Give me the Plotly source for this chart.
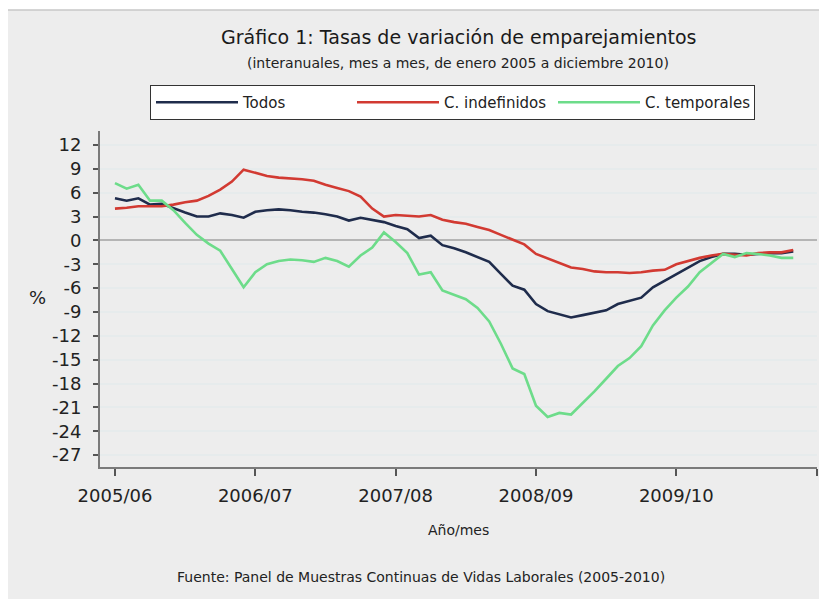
import plotly.graph_objects as go

# ---------------- data ----------------
months = list(range(59))  # monthly index, first tick = 2005/06
tick_pos = [0, 12, 24, 36, 48, 60]
tick_labels = ["2005/06", "2006/07", "2007/08", "2008/09", "2009/10", ""]
y_ticks = [12, 9, 6, 3, 0, -3, -6, -9, -12, -15, -18, -21, -24, -27]

todos = [5.3, 5.0, 5.3, 4.5, 4.6, 4.0, 3.5, 3.0, 3.0, 3.4, 3.2, 2.85, 3.6, 3.8, 3.9,
         3.8, 3.6, 3.5, 3.3, 3.0, 2.5, 2.85, 2.6, 2.3, 1.8, 1.4, 0.3, 0.6, -0.6, -1.0,
         -1.5, -2.1, -2.7, -4.2, -5.7, -6.2, -8.0, -8.9, -9.3, -9.7, -9.4, -9.1, -8.8,
         -8.0, -7.6, -7.2, -5.9, -5.1, -4.3, -3.5, -2.6, -2.1, -1.7, -1.7, -1.8, -1.7,
         -1.6, -1.6, -1.4]
indefinidos = [4.0, 4.1, 4.3, 4.3, 4.3, 4.5, 4.8, 5.0, 5.6, 6.4, 7.4, 8.9, 8.5, 8.1,
               7.9, 7.8, 7.7, 7.5, 7.0, 6.6, 6.2, 5.5, 4.0, 3.0, 3.2, 3.1, 3.0, 3.2,
               2.6, 2.3, 2.1, 1.7, 1.3, 0.7, 0.1, -0.5, -1.7, -2.3, -2.9, -3.4, -3.6,
               -3.9, -4.0, -4.0, -4.1, -4.0, -3.8, -3.7, -3.0, -2.6, -2.2, -1.9, -1.7,
               -1.8, -1.9, -1.6, -1.5, -1.5, -1.2]
temporales = [7.2, 6.5, 7.0, 5.0, 5.0, 3.8, 2.2, 0.7, -0.4, -1.3, -3.6, -5.9, -4.0,
              -3.0, -2.6, -2.4, -2.5, -2.7, -2.2, -2.6, -3.3, -1.9, -0.9, 1.0, -0.2,
              -1.6, -4.3, -4.0, -6.3, -6.8, -7.4, -8.5, -10.2, -13.0, -16.1, -16.8,
              -20.8, -22.2, -21.7, -21.9, -20.5, -19.0, -17.4, -15.8, -14.8, -13.3,
              -10.7, -8.8, -7.2, -5.8, -4.0, -2.9, -1.7, -2.1, -1.6, -1.7, -1.9,
              -2.2, -2.2]

series_names = ["Todos", "C. indefinidos", "C. temporales"]
series_colors = ["#1f2c4c", "#d23a32", "#6ddc8a"]

# ---------------- layout helpers ----------------
# page body has an 8px default margin; positions below are given in window pixels
OFF = 8
W, H = 827, 599
L = 100 - OFF
T = 131 - OFF
R = W - (817 - OFF)
B = H - (467 - OFF)
PW, PH = W - L - R, H - T - B

def px(x):
    return (x - OFF - L) / PW

def py(y):
    return (H - B - (y - OFF)) / PH

FONT = "DejaVu Sans"

fig = go.Figure()
for name, vals, col in zip(series_names, [todos, indefinidos, temporales], series_colors):
    fig.add_trace(go.Scatter(x=months, y=vals, mode="lines", name=name,
                             line=dict(color=col, width=2.6)))

fig.update_layout(
    width=W, height=H,
    margin=dict(l=L, r=R, t=T, b=B, pad=0, autoexpand=False),
    paper_bgcolor="#ffffff",
    plot_bgcolor="#ffffff",
    font=dict(family=FONT, color="#222222"),
    showlegend=True,
    legend=dict(
        orientation="h",
        x=px(150), xanchor="left",
        y=py(85), yanchor="top",
        bgcolor="#ffffff", bordercolor="#333333", borderwidth=1,
        font=dict(size=15, family=FONT, color="#222222"),
        itemwidth=82,
        entrywidth=104,
        traceorder="normal",
    ),
    xaxis=dict(
        range=[-1.28, 60.03],
        tickmode="array", tickvals=tick_pos, ticktext=tick_labels,
        showgrid=False, zeroline=False,
        showline=True, linecolor="#7a7a7a", linewidth=2,
        ticks="outside", ticklen=7, tickwidth=1.5, tickcolor="#555555",
        tickfont=dict(size=18, family=FONT, color="#222222"),
        ticklabelstandoff=4,
    ),
    yaxis=dict(
        range=[-28.5, 13.76],
        tickmode="array", tickvals=y_ticks, ticktext=[str(v) for v in y_ticks],
        showgrid=True, gridcolor="#e6ebec", gridwidth=2,
        zeroline=True, zerolinecolor="#b5b5b5", zerolinewidth=2,
        showline=True, linecolor="#7a7a7a", linewidth=2,
        ticks="outside", ticklen=5, tickwidth=1.5, tickcolor="#555555",
        tickfont=dict(size=18, family=FONT, color="#222222"),
        ticklabelstandoff=8,
    ),
    shapes=[
        dict(type="rect", xref="paper", yref="paper",
             x0=px(7), x1=px(840), y0=py(10), y1=py(620),
             fillcolor="#ededed", line=dict(color="#c8c8c8", width=1.5),
             layer="below"),
    ],
    annotations=[
        dict(text="Gráfico 1: Tasas de variación de emparejamientos",
             xref="paper", yref="paper", x=px(458), y=py(37),
             xanchor="center", yanchor="middle", showarrow=False,
             font=dict(size=19, family=FONT, color="#1a1a1a")),
        dict(text="(interanuales, mes a mes, de enero 2005 a diciembre 2010)",
             xref="paper", yref="paper", x=px(458), y=py(63),
             xanchor="center", yanchor="middle", showarrow=False,
             font=dict(size=14, family=FONT, color="#222222")),
        dict(text="%", xref="paper", yref="paper", x=px(37), y=py(297),
             xanchor="center", yanchor="middle", showarrow=False,
             font=dict(size=18, family=FONT, color="#222222")),
        dict(text="Año/mes", xref="paper", yref="paper", x=px(458), y=py(530),
             xanchor="center", yanchor="middle", showarrow=False,
             font=dict(size=14, family=FONT, color="#222222")),
        dict(text="Fuente: Panel de Muestras Continuas de Vidas Laborales (2005-2010)",
             xref="paper", yref="paper", x=px(421), y=py(577),
             xanchor="center", yanchor="middle", showarrow=False,
             font=dict(size=14, family=FONT, color="#222222")),
    ],
)

fig.write_html("out.html")
